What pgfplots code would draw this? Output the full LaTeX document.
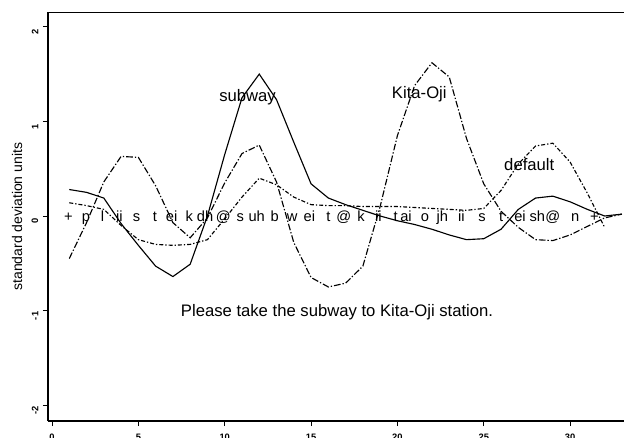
\documentclass[border=0pt]{standalone}
\usepackage{fontspec}
\setmainfont{Liberation Sans}
\usepackage{pgfplots}
\usepackage{pgfplotstable}
\pgfplotsset{compat=1.18}
\pgfplotstableread{
x y
1 0.28
2 0.25
3 0.19
4 -0.08
5 -0.31
6 -0.53
7 -0.64
8 -0.51
9 0.0
10 0.65
11 1.25
12 1.5
13 1.23
14 0.78
15 0.34
16 0.19
17 0.12
18 0.06
19 0.0
20 -0.05
21 -0.09
22 -0.14
23 -0.2
24 -0.25
25 -0.24
26 -0.14
27 0.07
28 0.19
29 0.21
30 0.15
31 0.07
32 0.0
33 0.02
}\subwaydata
\pgfplotstableread{
x y
1 -0.45
2 -0.07
3 0.36
4 0.63
5 0.62
6 0.32
7 -0.07
8 -0.23
9 -0.02
10 0.35
11 0.66
12 0.75
13 0.36
14 -0.28
15 -0.65
16 -0.75
17 -0.71
18 -0.53
19 0.1
20 0.85
21 1.38
22 1.62
23 1.47
24 0.82
25 0.34
26 0.05
27 -0.12
28 -0.25
29 -0.26
30 -0.2
31 -0.11
32 -0.02
33 0.02
}\kitadata
\pgfplotstableread{
x y
1 0.14
2 0.11
3 0.07
4 -0.1
5 -0.25
6 -0.3
7 -0.31
8 -0.3
9 -0.25
10 -0.03
11 0.2
12 0.4
13 0.33
14 0.2
15 0.12
16 0.11
17 0.11
18 0.1
19 0.1
20 0.1
21 0.09
22 0.08
23 0.07
24 0.06
25 0.08
26 0.27
27 0.55
28 0.74
29 0.77
30 0.57
31 0.24
32 -0.12
}\defaultdata
\begin{document}
\begin{tikzpicture}
\begin{axis}[
  at={(0,0)}, anchor=south west,
  scale only axis, width=432pt, height=306.5pt,
  xmin=-0.232, xmax=33.12, ymin=-2.167, ymax=2.153,
  axis x line*=box, axis y line*=left,
  xtick={0,5,...,30}, ytick={-2,-1,0,1,2},
  tick align=outside, tick pos=left, major tick length=3.75pt,
  every tick/.style={black, line width=0.7pt},
  axis line style={line width=0.8pt},
  /pgf/number format/assume math mode=true,
  xticklabel style={font=\fontsize{7}{8}\selectfont\bfseries, yshift=-2.2pt},
  yticklabel style={font=\fontsize{7}{8}\selectfont\bfseries, rotate=90, anchor=south, xshift=-4pt},
  ylabel={standard deviation units},
  ylabel style={font=\fontsize{10.5}{12}\selectfont, at={(axis description cs:-0.0538,0.5)}, anchor=center},
  clip=true,
]
\addplot[black, line width=0.85pt] table[x=x,y=y] {\subwaydata};
\addplot[black, line width=0.85pt, dash pattern=on 5pt off 1.5pt on 1pt off 1.5pt] table[x=x,y=y] {\kitadata};
\addplot[black, line width=0.85pt, dash pattern=on 3pt off 1.5pt on 1pt off 1.5pt] table[x=x,y=y] {\defaultdata};
\begin{scope}[every node/.style={font=\fontsize{11}{12}\selectfont, anchor=base, inner sep=0pt}]
\node at (axis cs:0.95,-0.055) {+};
\node at (axis cs:1.97,-0.055) {p};
\node at (axis cs:2.93,-0.055) {l};
\node at (axis cs:3.9,-0.055) {ii};
\node at (axis cs:4.9,-0.055) {s};
\node at (axis cs:5.96,-0.055) {t};
\node at (axis cs:6.93,-0.055) {ei};
\node at (axis cs:7.95,-0.055) {k};
\node at (axis cs:8.86,-0.055) {dh};
\node at (axis cs:9.92,-0.055) {@};
\node at (axis cs:10.9,-0.055) {s};
\node at (axis cs:11.85,-0.055) {uh};
\node at (axis cs:12.9,-0.055) {b};
\node at (axis cs:13.9,-0.055) {w};
\node at (axis cs:14.9,-0.055) {ei};
\node at (axis cs:16,-0.055) {t};
\node at (axis cs:16.9,-0.055) {@};
\node at (axis cs:17.9,-0.055) {k};
\node at (axis cs:18.9,-0.055) {ii};
\node at (axis cs:19.9,-0.055) {t};
\node at (axis cs:20.5,-0.055) {ai};
\node at (axis cs:21.6,-0.055) {o};
\node at (axis cs:22.6,-0.055) {jh};
\node at (axis cs:23.7,-0.055) {ii};
\node at (axis cs:24.9,-0.055) {s};
\node at (axis cs:26,-0.055) {t};
\node at (axis cs:27.1,-0.055) {ei};
\node at (axis cs:28.1,-0.055) {sh};
\node at (axis cs:29,-0.055) {@};
\node at (axis cs:30.3,-0.055) {n};
\node at (axis cs:31.4,-0.055) {+};
\end{scope}
\begin{scope}[every node/.style={font=\fontsize{12.5}{14}\selectfont, anchor=base west, inner sep=0pt}]
\node at (axis cs:9.67,1.208) {subway};
\node at (axis cs:19.67,1.24) {Kita-Oji};
\node at (axis cs:26.17,0.483) {default};
\node at (axis cs:7.45,-1.064) {Please take the subway to Kita-Oji station.};
\end{scope}
\end{axis}
\pgfresetboundingbox
\path[use as bounding box] (-36pt,-12pt) rectangle (432pt,315.75pt);
\end{tikzpicture}
\end{document}
